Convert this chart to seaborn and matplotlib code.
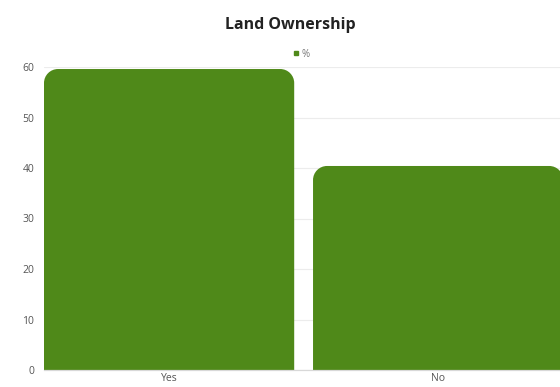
import matplotlib
matplotlib.use("Agg")
import matplotlib.pyplot as plt
from matplotlib.path import Path
from matplotlib.patches import PathPatch
from matplotlib.lines import Line2D
import seaborn as sns
import pandas as pd

categories = ["Yes", "No"]
values = [59.6, 40.4]
series_name = "%"
y_ticks = [0, 10, 20, 30, 40, 50, 60]

GREEN = "#4f8919"

sns.set_theme(style="white")
plt.rcParams["font.family"] = ["Open Sans", "DejaVu Sans"]

df = pd.DataFrame({"category": categories, "value": values})

fig = plt.figure(figsize=(5.6, 3.87), dpi=100)
ax = fig.add_axes([44 / 560, 17 / 387, 516 / 560, (370 - 67) / 387])

sns.barplot(data=df, x="category", y="value", color=GREEN, width=0.93,
            saturation=1, ax=ax, zorder=3)

ax.set_xlim(-0.465, 1.453)
ax.set_ylim(0, 60)


def rounded_top(x0, x1, y0, y1, rx, ry):
    k = 0.5523
    verts = [
        (x0, y0), (x0, y1 - ry),
        (x0, y1 - ry + k * ry), (x0 + rx - k * rx, y1), (x0 + rx, y1),
        (x1 - rx, y1),
        (x1 - rx + k * rx, y1), (x1, y1 - ry + k * ry), (x1, y1 - ry),
        (x1, y0), (x0, y0),
    ]
    codes = [Path.MOVETO, Path.LINETO,
             Path.CURVE4, Path.CURVE4, Path.CURVE4,
             Path.LINETO,
             Path.CURVE4, Path.CURVE4, Path.CURVE4,
             Path.LINETO, Path.CLOSEPOLY]
    return Path(verts, codes)


# replace the square bars with ones that have rounded top corners
px_per_x = 516 / (1.453 + 0.465)
px_per_y = 303 / 60
radius_px = 14
for bar in list(ax.patches):
    x0 = bar.get_x()
    x1 = x0 + bar.get_width()
    h = bar.get_height()
    path = rounded_top(x0, x1, 0, h, radius_px / px_per_x, radius_px / px_per_y)
    ax.add_patch(PathPatch(path, facecolor=GREEN, edgecolor="none", zorder=3))
    bar.remove()

ax.set_yticks(y_ticks)
ax.yaxis.grid(True, color="#ececec", linewidth=0.8, zorder=0)
ax.set_axisbelow(True)
for s in ["top", "right", "left"]:
    ax.spines[s].set_visible(False)
ax.spines["bottom"].set_color("#d8d8d8")
ax.spines["bottom"].set_linewidth(0.9)
ax.spines["bottom"].set_zorder(4)

ax.tick_params(axis="y", length=0, pad=7, labelsize=7.5, labelcolor="#555555")
ax.tick_params(axis="x", length=0, pad=2, labelsize=7.5, labelcolor="#555555")
ax.set_xlabel("")
ax.set_ylabel("")

fig.text(0.518, 0.935, "Land Ownership", ha="center", va="center",
         fontsize=11.5, fontweight="bold", color="#222222")

handle = Line2D([], [], marker="s", linestyle="none", markersize=3.5,
                markerfacecolor=GREEN, markeredgecolor=GREEN)
fig.legend([handle], [series_name], loc="center", bbox_to_anchor=(0.536, 0.86),
           frameon=False, fontsize=7, labelcolor="#777777", handletextpad=0.1,
           handlelength=1.0)

fig.savefig("out.png", dpi=100)
